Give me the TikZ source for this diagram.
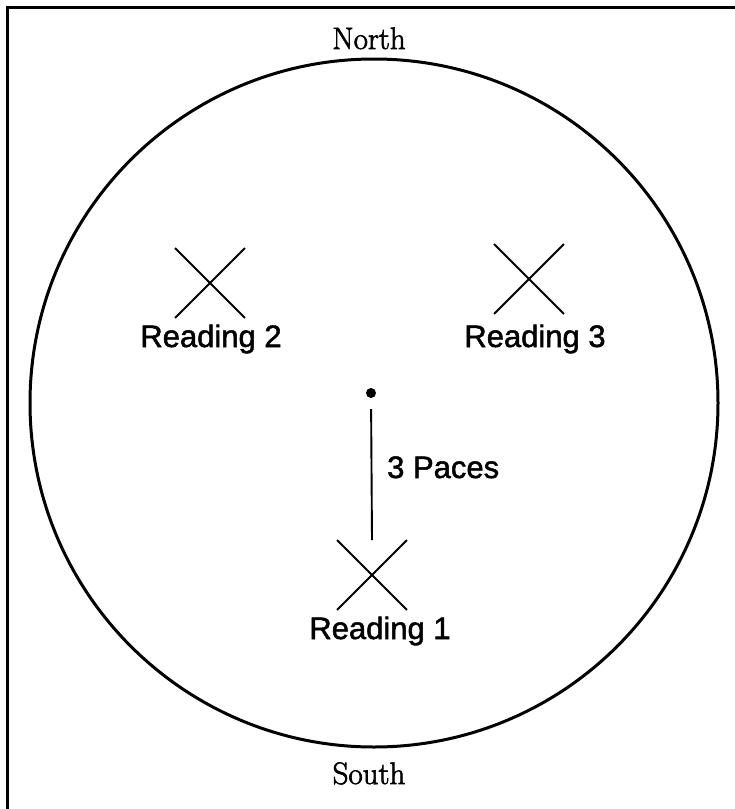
\documentclass[tikz,border=0pt]{standalone}
\usepackage{fontspec}
\newfontfamily\labelfont[FakeBold=1.6]{Liberation Sans}
\newfontfamily\compassfont[FakeBold=2]{Latin Modern Roman}
\usetikzlibrary{positioning, shapes.misc}

\begin{document}
\begin{tikzpicture}[x=1pt, y=-1pt,
    xmark/.style={cross out, draw, line width=1.9pt, minimum size=68pt, inner sep=0pt},
    reading/.style={font=\labelfont\fontsize{31}{31}\selectfont, inner sep=0pt, anchor=base},
    compass/.style={font=\compassfont\fontsize{31}{31}\selectfont, inner sep=0pt, anchor=base}]
    \useasboundingbox (0,0) rectangle (735,809);
    \draw[line width=3pt] (7,809) -- (7,7) -- (735,7);
    \draw[line width=3pt] (374,403) circle[radius=344];
    \node[compass] (north) at (369,49) {North};
    \node[compass] (south) at (369,784) {South};
    \node[circle, fill, inner sep=0pt, minimum size=10pt] (centre) at (371,393) {};
    \node[xmark] (r1) at (372,575) {};
    \node[xmark] (r2) at (210,283) {};
    \node[xmark] (r3) at (529,279) {};
    \node[reading] (r1 label) at (380,639) {Reading 1};
    \node[reading] (r2 label) at (211,347) {Reading 2};
    \node[reading] (r3 label) at (535,347) {Reading 3};
    \draw[line width=1.9pt, shorten <=11pt] (centre) -- (r1.north);
    \node[reading, anchor=base west] (paces) at (387,478) {3 Paces};
\end{tikzpicture}
\end{document}
